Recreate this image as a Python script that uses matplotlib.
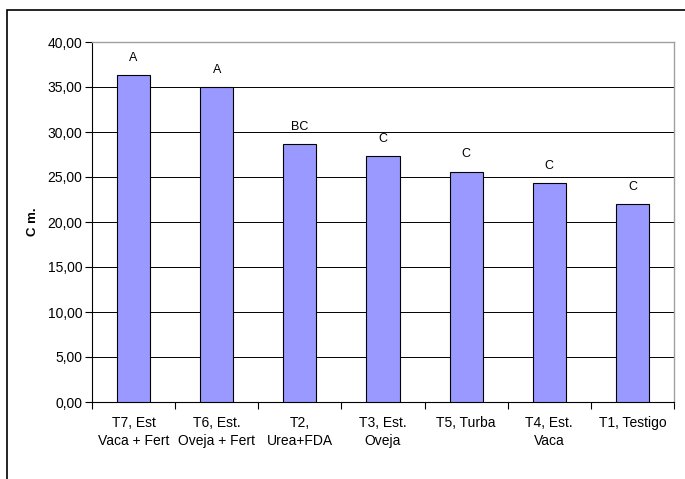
"""Bar chart: plant height (Cm.) by treatment, with significance letters."""

import matplotlib
matplotlib.use("Agg")
import matplotlib.pyplot as plt
import matplotlib.ticker as ticker
from matplotlib.patches import Rectangle
import numpy as np

plt.rcParams["font.family"] = ["Liberation Sans", "DejaVu Sans"]

CATEGORIES = [
    "T7, Est\nVaca + Fert",
    "T6, Est.\nOveja + Fert",
    "T2,\nUrea+FDA",
    "T3, Est.\nOveja",
    "T5, Turba",
    "T4, Est.\nVaca",
    "T1, Testigo",
]
HEIGHTS = [36.3, 35.0, 28.7, 27.3, 25.6, 24.3, 22.0]
LETTERS = ["A", "A", "BC", "C", "C", "C", "C"]
Y_TICKS = [0, 5, 10, 15, 20, 25, 30, 35, 40]

W, H = 685, 479
fig = plt.figure(figsize=(W / 100, H / 100), dpi=100)
ax = fig.add_axes([92 / W, 1 - 402 / H, (674 - 92) / W, (402 - 42) / H])

x = np.arange(len(CATEGORIES))
ax.bar(x, HEIGHTS, width=0.4, color="#9999FF", edgecolor="black",
       linewidth=0.8, zorder=3)

for xi, h, lab in zip(x, HEIGHTS, LETTERS):
    ax.annotate(lab, (xi, h), xytext=(0, 8), textcoords="offset points",
                ha="center", va="bottom", fontsize=9)

ax.set_xlim(-0.5, len(CATEGORIES) - 0.5)
ax.set_ylim(0, 40)
ax.set_yticks(Y_TICKS)
ax.yaxis.set_major_formatter(
    ticker.FuncFormatter(lambda v, _: f"{v:.2f}".replace(".", ",")))
ax.yaxis.grid(True, color="black", linewidth=0.7, zorder=0)
ax.set_axisbelow(True)

# category labels centred, ticks between categories
ax.set_xticks(x)
ax.set_xticklabels(CATEGORIES, fontsize=10, linespacing=1.4)
ax.tick_params(axis="x", length=0, pad=10)
ax.set_xticks(np.arange(-0.5, len(CATEGORIES)), minor=True)
ax.tick_params(axis="x", which="minor", length=5, width=0.8, direction="out")
ax.tick_params(axis="y", length=5, width=0.8, labelsize=10, pad=2)

for side in ("top", "right"):
    ax.spines[side].set_color("#a0a0a0")
    ax.spines[side].set_linewidth(1.0)
for side in ("left", "bottom"):
    ax.spines[side].set_color("black")
    ax.spines[side].set_linewidth(0.8)

ax.set_ylabel("C m.", fontsize=9.5, fontweight="bold", labelpad=6)

# outer chart frame (only top and left edges fall inside the image)
fig.patches.append(Rectangle((7 / W, -0.1), 1.2, 1 - 10 / H + 0.1,
                             transform=fig.transFigure, fill=False,
                             edgecolor="black", linewidth=1.2))

fig.savefig("out.png", dpi=100)
